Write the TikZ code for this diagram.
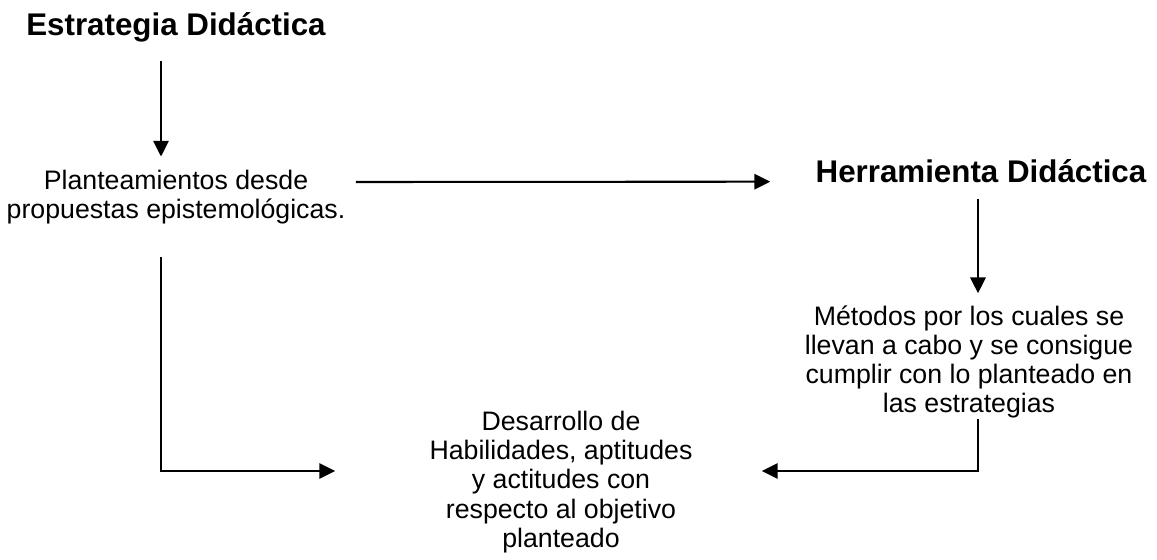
\documentclass[tikz,border=0pt]{standalone}
\usepackage{fontspec}
\setmainfont{Liberation Sans}
\usetikzlibrary{arrows.meta, calc}

\begin{document}
\begin{tikzpicture}[x=0.4566pt, y=-0.4566pt, >={Triangle[length=7.2pt,width=7pt]}, line join=miter,
	titulo/.style={font=\fontsize{14.3}{17}\selectfont\bfseries, inner sep=0pt, anchor=base},
	texto/.style={font=\fontsize{12.2}{13.3}\selectfont, align=center, inner sep=0pt},
	flecha/.style={->, line width=0.95pt}]
	
	\useasboundingbox (0,0) rectangle (1157,559);
	
	% ===== Left: strategy column =====
	\node[titulo] (estrategia) at (176,35) {Estrategia Didáctica};
	\node[texto] (planteamientos) at (176,197) {Planteamientos desde\\propuestas epistemológicas.};
	
	% ===== Right: tool column =====
	\node[titulo] (herramienta) at (981,182) {Herramienta Didáctica};
	\node[texto] (metodos) at (969,362) {Métodos por los cuales se\\llevan a cabo y se consigue\\cumplir con lo planteado en\\las estrategias};
	
	% ===== Bottom: result =====
	\node[texto] (desarrollo) at (561,482) {Desarrollo de\\Habilidades, aptitudes\\y actitudes con\\respecto al objetivo\\planteado};
	
	% arrows down
	\draw[flecha] ($(estrategia.south)+(-15,19)$) -- ($(planteamientos.north)+(-15,-13)$);
	\draw[flecha] ($(herramienta.south)+(-3,16)$) -- ($(metodos.north)+(9,-12)$);
	
	% arrow across
	\draw[flecha] ($(planteamientos.east)+(10,-15)$) -- ($(herramienta.west)+(-45,11)$);
	
	% elbows into the result
	\draw[flecha] ($(planteamientos.south)+(-15,33)$) |- ($(desarrollo.west)+(-94,-11)$);
	\draw[flecha] ($(metodos.south)+(9,0)$) |- ($(desarrollo.east)+(69,-11)$);
	
\end{tikzpicture}
\end{document}
